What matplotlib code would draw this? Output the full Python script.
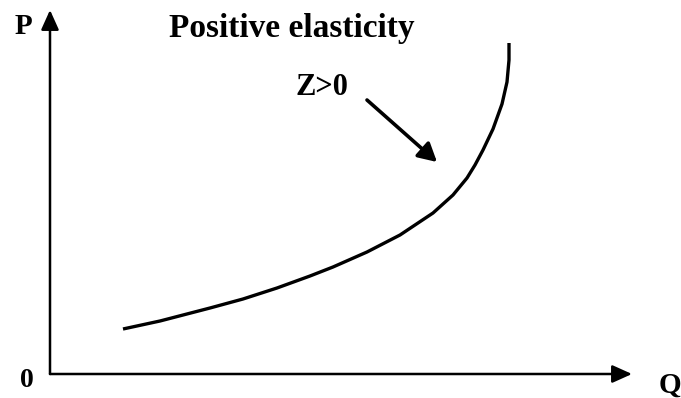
import matplotlib
matplotlib.use("Agg")
import matplotlib.pyplot as plt

# Supply curve sample points (quantity, price) in drawing units from the origin
quantity = [73, 110, 160, 193, 227, 260, 283, 317, 350, 383, 403, 417, 425, 433, 443, 452, 457, 459, 459]
price = [45, 53, 66, 75, 86, 98, 107, 122, 139, 161, 179, 196, 209, 224, 245, 270, 292, 314, 331]

title_text = "Positive elasticity"
note_text = "Z>0"
x_label = "Q"
y_label = "P"
origin_label = "0"

fig = plt.figure(figsize=(6.81, 3.98), dpi=100)
ax = fig.add_axes([0, 0, 1, 1])
ax.set_xlim(-50, 631)
ax.set_ylim(-24, 374)
ax.axis("off")

serif = ["Liberation Serif", "DejaVu Serif"]

# Axes with arrowheads
axis_arrow = dict(arrowstyle="-|>,head_length=0.6,head_width=0.27", color="black",
                  lw=1.8, shrinkA=0, shrinkB=0, mutation_scale=20)
ax.annotate("", xy=(582, 0), xytext=(0, 0), arrowprops=axis_arrow)
ax.annotate("", xy=(0, 364), xytext=(0, 0), arrowprops=axis_arrow)

# Curve
ax.plot(quantity, price, color="black", lw=2.4, solid_capstyle="butt",
        solid_joinstyle="round")

# Labels
ax.text(-27, 340, y_label, fontsize=21, fontweight="bold", family=serif, ha="center", va="baseline")
ax.text(-23, -13, origin_label, fontsize=20, fontweight="bold", family=serif, ha="center", va="baseline")
ax.text(620, -19, x_label, fontsize=21, fontweight="bold", family=serif, ha="center", va="baseline")
ax.text(242, 337, title_text, fontsize=24, fontweight="bold", family=serif, ha="center", va="baseline")
ax.text(272, 279, note_text, fontsize=22, fontweight="bold", family=serif, ha="center", va="baseline")

# Pointer arrow towards the curve
ax.annotate("", xy=(387, 212), xytext=(317, 274),
            arrowprops=dict(arrowstyle="-|>,head_length=0.55,head_width=0.3", color="black",
                            lw=2.6, shrinkA=0, shrinkB=0, mutation_scale=20))

fig.savefig("out.png", dpi=100, facecolor="white")
